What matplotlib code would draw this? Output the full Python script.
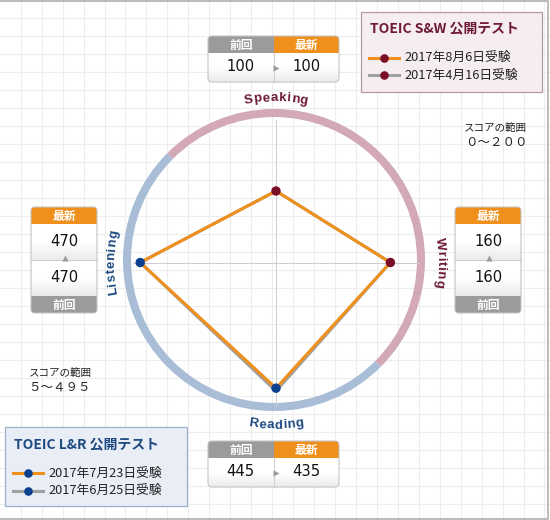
import numpy as np
import matplotlib
matplotlib.use('Agg')
import matplotlib.pyplot as plt
from matplotlib.patches import FancyBboxPatch, Rectangle, Arc
from matplotlib.colors import LinearSegmentedColormap

plt.rcParams['font.family'] = ['Noto Sans CJK JP', 'DejaVu Sans']

# data
skills = ['Speaking', 'Writing', 'Reading', 'Listening']
skill_angles = [90, 0, 270, 180]
skill_max = [200, 200, 495, 495]
latest = [100, 160, 435, 470]
previous = [100, 160, 445, 470]
sw_title = 'TOEIC S&W 公開テスト'
lr_title = 'TOEIC L&R 公開テスト'
sw_dates = ['2017年8月6日受験', '2017年4月16日受験']
lr_dates = ['2017年7月23日受験', '2017年6月25日受験']
range_label = 'スコアの範囲'
sw_range = '０～２００'
lr_range = '５～４９５'
head_prev = '前回'
head_new = '最新'

ORANGE = '#f0901c'
GRAY_HEAD = '#9b9b9b'
GRAY_LINE = '#a0a0a0'
MAROON = '#7a0e27'
NAVY = '#0b3f8f'
MAROON_TXT = '#6e1a35'
NAVY_TXT = '#1d4a80'
skill_dot = [MAROON, MAROON, NAVY, NAVY]
skill_txt = [MAROON_TXT, MAROON_TXT, NAVY_TXT, NAVY_TXT]

fig = plt.figure(figsize=(5.5, 5.2), dpi=100)
ax = fig.add_axes([0, 0, 1, 1])
ax.set_xlim(0, 550)
ax.set_ylim(520, 0)
ax.set_xticks(np.arange(20.7, 550, 20.95))
ax.set_yticks(np.arange(18.3, 520, 18))
ax.tick_params(length=0, labelbottom=False, labelleft=False)
ax.grid(True, color='#ededed', lw=0.8)
ax.set_axisbelow(True)
for s in ax.spines.values():
    s.set_visible(False)

# outer frame
ax.add_patch(Rectangle((-3, 0.7), 550.5, 518.3, fill=False, ec='#a8a8a8', lw=1.1, zorder=1))

# ring
ring_c = (274, 260)
ax.add_patch(Arc(ring_c, 294, 294, theta1=-135, theta2=45, color='#d3a9b6', lw=5.8, zorder=2))
ax.add_patch(Arc(ring_c, 294, 294, theta1=45, theta2=225, color='#a9bdd7', lw=5.8, zorder=2))

# radar in a polar axes
cx, cy, R = 276, 262.5, 143
pax = fig.add_axes([(cx - R) / 550, (520 - cy - R) / 520, 2 * R / 550, 2 * R / 520], projection='polar')
pax.set_facecolor('none')
pax.axis('off')
pax.set_ylim(0, 1)
theta = np.radians(skill_angles)
for t in theta:
    pax.plot([t, t], [0, 1.0], color='#cfcfcf', lw=0.75, clip_on=False, zorder=1)
r_new = np.array(latest) / np.array(skill_max)
r_old = np.array(previous) / np.array(skill_max)
pax.plot(np.append(theta, theta[0]), np.append(r_old, r_old[0]), color=GRAY_LINE, lw=2.2, clip_on=False, zorder=2)
pax.plot(np.append(theta, theta[0]), np.append(r_new, r_new[0]), color=ORANGE, lw=2.2, clip_on=False, zorder=3)
pax.scatter(theta, r_new, s=46, c=skill_dot, zorder=4, clip_on=False, edgecolors='none')

# curved axis labels
renderer = fig.canvas.get_renderer()
LBL_FONT = dict(fontsize=9.5, fontweight='bold', family='Liberation Sans')


def arc_text(txt, th0, radius, color, clockwise=True, spacing=0.6):
    widths = []
    for ch in txt:
        t = ax.text(0, 0, ch, **LBL_FONT)
        widths.append(t.get_window_extent(renderer).width)
        t.remove()
    total = sum(widths) + spacing * (len(txt) - 1)
    pos = -total / 2
    sign = -1 if clockwise else 1
    for ch, w in zip(txt, widths):
        th = th0 + sign * np.degrees((pos + w / 2) / radius)
        x = cx + radius * np.cos(np.radians(th))
        y = cy - radius * np.sin(np.radians(th))
        rot = th - 90 if clockwise else th + 90
        ax.text(x, y, ch, rotation=rot, rotation_mode='anchor', ha='center', va='baseline',
                color=color, zorder=6, **LBL_FONT)
        pos += w + spacing


for name, ang, col in zip(skills, skill_angles, skill_txt):
    if name == 'Reading':
        arc_text(name, ang, 166, col, clockwise=False)
    else:
        arc_text(name, ang, 161.5, col, clockwise=True)

# score boxes
grad = LinearSegmentedColormap.from_list('g', ['#ffffff', '#ffffff', '#ebebeb'])


def shell(x, y, w, h):
    p = FancyBboxPatch((x, y), w, h, boxstyle='round,pad=0,rounding_size=4', fc='white', ec='none', zorder=3)
    ax.add_patch(p)
    return p


def border(x, y, w, h):
    ax.add_patch(FancyBboxPatch((x, y), w, h, boxstyle='round,pad=0,rounding_size=4',
                                fc='none', ec='#c4c4c4', lw=0.8, zorder=5))


def cell(x, y, w, h, clip):
    im = ax.imshow(np.linspace(0, 1, 40).reshape(-1, 1), extent=(x, x + w, y + h, y), cmap=grad,
                   aspect='auto', zorder=3.5, interpolation='bilinear')
    im.set_clip_path(clip)


def head(x, y, w, h, color, label, clip):
    r = Rectangle((x, y), w, h, fc=color, ec='none', zorder=4)
    ax.add_patch(r)
    r.set_clip_path(clip)
    ax.text(x + w / 2, y + h / 2 + 0.5, label, color='white', fontsize=8.5, fontweight='bold',
            ha='center', va='center', zorder=6)


def num(x, y, v):
    ax.text(x, y, str(v), fontsize=10.6, family='DejaVu Sans', color='#111111',
            ha='center', va='center', zorder=6)


def hbox(x, y, v_old, v_new, w=131, h=46, hh=17):
    p = shell(x, y, w, h)
    cell(x, y + hh, w, h - hh, p)
    head(x, y, w / 2, hh, GRAY_HEAD, head_prev, p)
    head(x + w / 2, y, w / 2, hh, ORANGE, head_new, p)
    ax.plot([x + w / 2, x + w / 2], [y + hh, y + h], color='#d0d0d0', lw=0.8, zorder=4)
    ax.plot(x + w / 2 + 2, y + hh + (h - hh) / 2, marker='>', ms=4.5, color='#9a9a9a', mec='none', zorder=5)
    num(x + w / 4, y + hh + (h - hh) / 2 - 1, v_old)
    num(x + 3 * w / 4, y + hh + (h - hh) / 2 - 1, v_new)
    border(x, y, w, h)


def vbox(x, y, v_old, v_new, w=66, h=106, hh=17):
    p = shell(x, y, w, h)
    mid = y + hh + (h - 2 * hh) / 2
    cell(x, y + hh, w, mid - y - hh, p)
    cell(x, mid, w, y + h - hh - mid, p)
    head(x, y, w, hh, ORANGE, head_new, p)
    head(x, y + h - hh, w, hh, GRAY_HEAD, head_prev, p)
    ax.plot([x, x + w], [mid, mid], color='#cfcfcf', lw=0.8, zorder=4)
    ax.plot(x + w / 2 + 1, mid - 2.5, marker='^', ms=5, color='#9a9a9a', mec='none', zorder=5)
    num(x + w / 2, y + hh + (mid - y - hh) / 2 - 1, v_new)
    num(x + w / 2, mid + (y + h - hh - mid) / 2 - 1, v_old)
    border(x, y, w, h)


hbox(208, 36, previous[0], latest[0])
hbox(208, 441, previous[2], latest[2])
vbox(455, 207, previous[1], latest[1])
vbox(31, 207, previous[3], latest[3])

# score range notes
ax.text(495, 128, range_label, fontsize=7.6, ha='center', va='center', color='#222222', zorder=6)
ax.text(496, 142, sw_range, fontsize=9, ha='center', va='center', color='#222222', zorder=6)
ax.text(60, 373, range_label, fontsize=7.6, ha='center', va='center', color='#222222', zorder=6)
ax.text(60, 387, lr_range, fontsize=9, ha='center', va='center', color='#222222', zorder=6)


# legends
def legend_box(x, y, w, h, fc, ec, title, tcol, dates, dot):
    ax.add_patch(Rectangle((x, y), w, h, fc=fc, ec=ec, lw=0.9, zorder=3))
    ax.text(x + 9, y + 17, title, fontsize=10, fontweight='bold', color=tcol, ha='left', va='center', zorder=6)
    for i, (d, lc) in enumerate(zip(dates, [ORANGE, GRAY_LINE])):
        yy = y + 46 + i * 17.5
        ax.plot([x + 8, x + 38], [yy, yy], color=lc, lw=2.2, zorder=4)
        ax.plot(x + 23, yy, 'o', ms=6.2, color=dot, mec='none', zorder=5)
        ax.text(x + 43, yy, d, fontsize=9.2, color='#222222', ha='left', va='center', zorder=6)


legend_box(361, 11.5, 181, 80, '#f5edf0', '#b59aa4', sw_title, MAROON_TXT, sw_dates, MAROON)
legend_box(5, 427, 182, 79, '#e9eef6', '#9fb0cc', lr_title, NAVY_TXT, lr_dates, NAVY)

ax.set_xlim(0, 550)
ax.set_ylim(520, 0)
fig.savefig('out.png', dpi=100)
